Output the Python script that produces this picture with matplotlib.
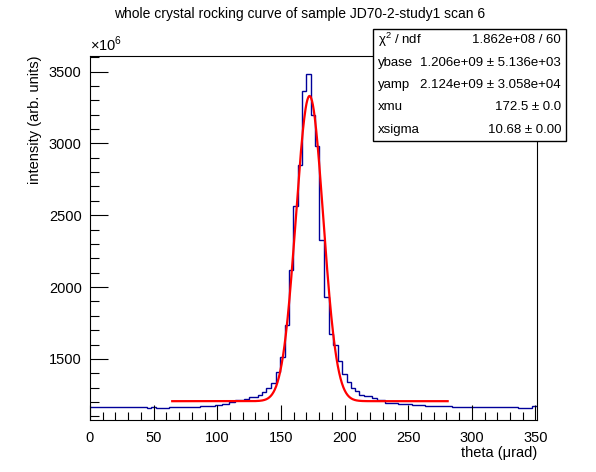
import numpy as np
import matplotlib
matplotlib.use('Agg')
import matplotlib.pyplot as plt
from matplotlib.patches import Rectangle
from matplotlib.ticker import MultipleLocator

plt.rcParams['font.family'] = ['Liberation Sans', 'DejaVu Sans']
plt.rcParams['mathtext.fontset'] = 'custom'
plt.rcParams['mathtext.rm'] = 'Liberation Sans'

# histogram bin edges (theta, urad) and contents (x1e6, arb. units)
edges = [0, 45.0, 48.1, 51.5, 62.0, 86.8, 98.6, 103.8, 109.0, 114.2, 121.3,
         124.7, 131.7, 135.2, 138.5, 142.2, 146.2, 149.5, 152.9, 156.0, 159.5,
         163.1, 166.2, 169.9, 173.3, 177.0, 180.3, 183.5, 187.7, 191.3, 194.8,
         198.1, 201.8, 205.0, 208.3, 211.7, 215.1, 221.4, 225.3, 231.8, 242.3,
         252.8, 263.2, 284.1, 336.4, 346.9, 351.2]
counts = [1166, 1159, 1166, 1159, 1166, 1170, 1182, 1189, 1198, 1212,
          1222, 1232, 1252, 1268, 1298, 1333, 1410, 1511, 1739, 2116,
          2561, 2851, 3363, 3482, 3200, 2983, 2330, 1928, 1676, 1595,
          1483, 1398, 1337, 1298, 1275, 1252, 1240, 1228, 1215, 1194,
          1189, 1182, 1175, 1166, 1159, 1170]

# fit result shown in the stats box
fit_range = (64.6, 281.0)
ybase, yamp, xmu, xsigma = 1.206e9, 2.124e9, 172.5, 10.68
stat_names = ['χ$^{2}$ / ndf', 'ybase', 'yamp', 'xmu', 'xsigma']
stat_values = ['1.862e+08 / 60', '1.206e+09 ± 5.136e+03',
               '2.124e+09 ± 3.058e+04', '172.5 ± 0.0', '10.68 ± 0.00']

fig = plt.figure(figsize=(5.96, 4.72), dpi=100)
ax = fig.add_axes([90/596, 52/472, 447/596, 364/472])

ax.stairs(counts, edges, baseline=None, color='#000099', lw=1)
xf = np.linspace(fit_range[0], fit_range[1], 600)
yf = (ybase + yamp * np.exp(-0.5 * ((xf - xmu) / xsigma) ** 2)) / 1e6
ax.plot(xf, yf, color='#ff0000', lw=1.6)

ax.set_xlim(0, 351.2)
ax.set_ylim(1075, 3608)
ax.xaxis.set_major_locator(MultipleLocator(50))
ax.xaxis.set_minor_locator(MultipleLocator(10))
ax.yaxis.set_major_locator(MultipleLocator(500))
ax.yaxis.set_minor_locator(MultipleLocator(100))
ax.tick_params(which='both', direction='in', top=False, right=False,
               labelsize=10.5, width=0.8)
ax.tick_params(axis='x', which='major', length=11, pad=8)
ax.tick_params(axis='x', which='minor', length=5.5)
ax.tick_params(axis='y', which='major', length=13, pad=6)
ax.tick_params(axis='y', which='minor', length=6.5)
for s in ax.spines.values():
    s.set_linewidth(0.8)

ax.set_xlabel('theta (μrad)', loc='right', fontsize=10.5, labelpad=1)
ax.set_ylabel('intensity (arb. units)', loc='top', fontsize=10.5, labelpad=5)
ax.text(0.0, 1.005, r'$\times10^{6}$', transform=ax.transAxes,
        fontsize=10.5, ha='left', va='bottom')

fig.text(300/596, 1 - 14/472, 'whole crystal rocking curve of sample JD70-2-study1 scan 6',
         ha='center', va='center', fontsize=10)

# stats box
bx0, by0, bx1, by1 = 373, 29, 566, 141
fig.patches.append(Rectangle((bx0/596, 1 - by1/472), (bx1 - bx0)/596, (by1 - by0)/472,
                             transform=fig.transFigure, facecolor='white',
                             edgecolor='black', lw=1, zorder=5))
row_h = (by1 - by0) / len(stat_names)
for i, (n, v) in enumerate(zip(stat_names, stat_values)):
    yy = 1 - (by0 + row_h * (i + 0.5)) / 472
    fig.text(378/596, yy, n, ha='left', va='center', fontsize=9.5, zorder=6)
    fig.text(561/596, yy, v, ha='right', va='center', fontsize=9.5, zorder=6)

fig.savefig('out.png', dpi=100)
